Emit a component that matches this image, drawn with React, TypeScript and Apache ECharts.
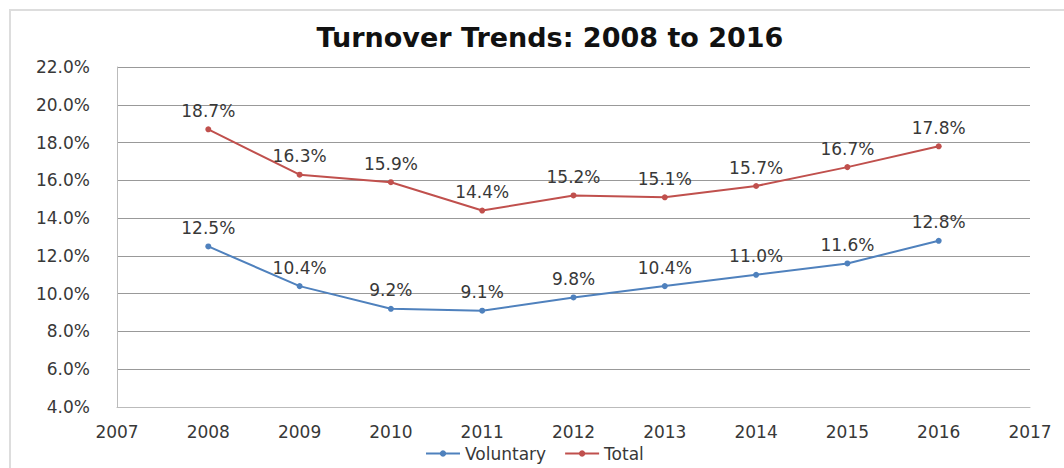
import React, { useEffect, useRef } from "react";
import * as echarts from "echarts";

const years = [2008, 2009, 2010, 2011, 2012, 2013, 2014, 2015, 2016];
const voluntary = [12.5, 10.4, 9.2, 9.1, 9.8, 10.4, 11.0, 11.6, 12.8];
const total = [18.7, 16.3, 15.9, 14.4, 15.2, 15.1, 15.7, 16.7, 17.8];

const FONT = "'DejaVu Sans', Verdana, sans-serif";

export default function App() {
  const ref = useRef<HTMLDivElement>(null);
  useEffect(() => {
    document.body.style.margin = "0";
    const chart = echarts.init(ref.current!, null, { renderer: "svg" });
    const mk = (name: string, vals: number[], color: string) => ({
      name,
      type: "line",
      data: years.map((y, i) => [y, vals[i]]),
      symbol: "circle",
      symbolSize: 6,
      lineStyle: { color, width: 2 },
      itemStyle: { color },
      label: {
        show: true,
        position: "top",
        distance: 7,
        color: "#383838",
        fontFamily: FONT,
        fontSize: 17,
        formatter: (p: any) => p.value[1].toFixed(1) + "%",
      },
    });
    chart.setOption({
      animation: false,
      backgroundColor: "#fff",
      title: {
        text: "Turnover Trends: 2008 to 2016",
        left: 545,
        textAlign: "center",
        top: 19,
        textStyle: { fontFamily: FONT, fontSize: 27, fontWeight: "bold", color: "#111" },
      },
      graphic: [
        {
          type: "rect",
          shape: { x: 10, y: 10, width: 1060, height: 470 },
          style: { fill: "none", stroke: "#ddd", lineWidth: 2 },
        },
      ],
      grid: { left: 117, right: 34, top: 67, bottom: 61 },
      xAxis: {
        type: "value",
        min: 2007,
        max: 2017,
        interval: 1,
        axisLine: { show: true, lineStyle: { color: "#bbb" } },
        axisTick: { show: false },
        splitLine: { show: false },
        axisLabel: {
          margin: 16,
          color: "#383838",
          fontFamily: FONT,
          fontSize: 17,
          formatter: (v: number) => String(v),
        },
      },
      yAxis: {
        type: "value",
        min: 4,
        max: 22,
        interval: 2,
        axisLine: { show: true, lineStyle: { color: "#bbb" } },
        axisTick: { show: false },
        splitLine: { show: true, lineStyle: { color: "#999" } },
        axisLabel: {
          margin: 27,
          color: "#383838",
          fontFamily: FONT,
          fontSize: 17,
          formatter: (v: number) => v.toFixed(1) + "%",
        },
      },
      legend: {
        bottom: 1,
        left: 420,
        itemWidth: 34,
        itemHeight: 8,
        itemGap: 18,
        textStyle: { fontFamily: FONT, fontSize: 17, color: "#383838" },
        data: ["Voluntary", "Total"],
      },
      series: [mk("Voluntary", voluntary, "#4F81BD"), mk("Total", total, "#C0504D")],
    });
    return () => chart.dispose();
  }, []);
  return <div ref={ref} style={{ width: 1064, height: 468 }} />;
}
